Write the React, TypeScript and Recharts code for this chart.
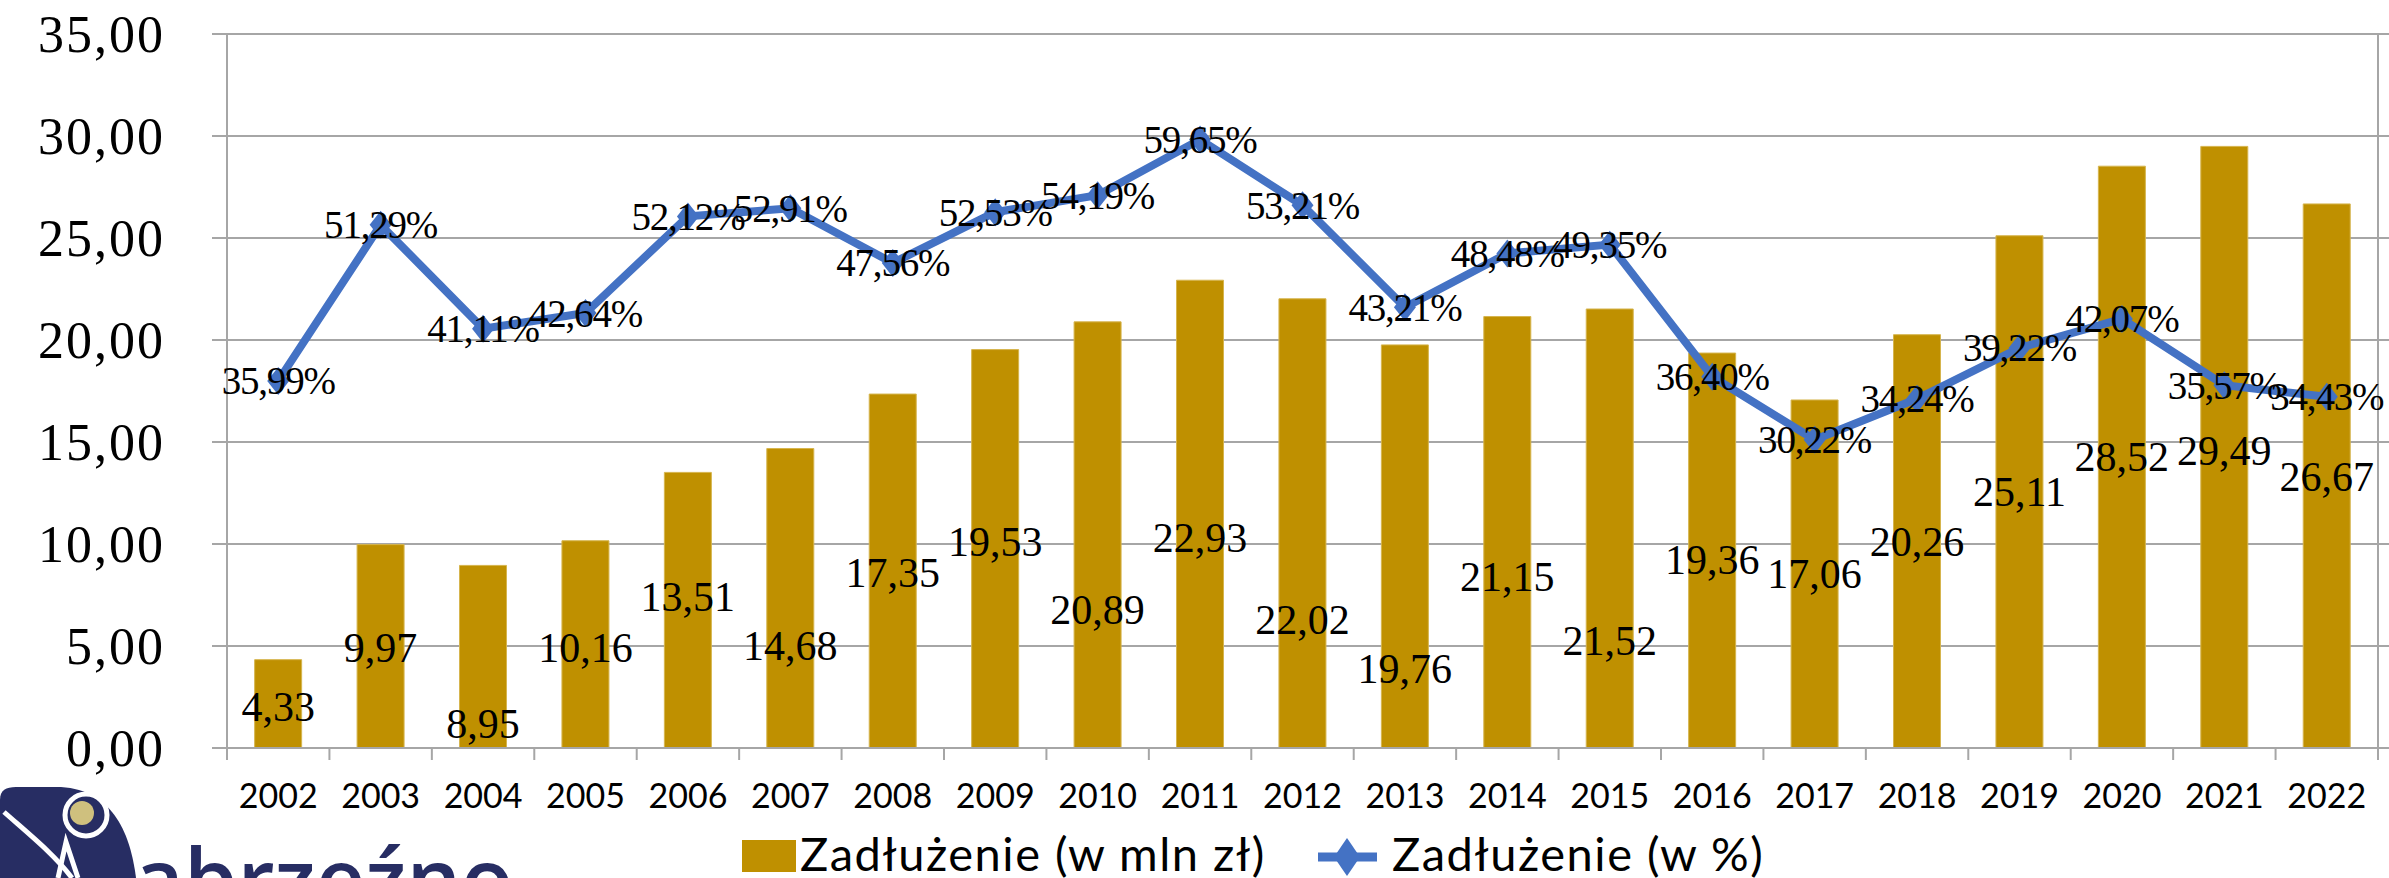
import React from 'react';
import { ComposedChart, Bar, Line, XAxis, YAxis, CartesianGrid, LabelList } from 'recharts';

const years = ['2002', '2003', '2004', '2005', '2006', '2007', '2008', '2009', '2010', '2011', '2012', '2013', '2014', '2015', '2016', '2017', '2018', '2019', '2020', '2021', '2022'];
const debtMln = [4.33, 9.97, 8.95, 10.16, 13.51, 14.68, 17.35, 19.53, 20.89, 22.93, 22.02, 19.76, 21.15, 21.52, 19.36, 17.06, 20.26, 25.11, 28.52, 29.49, 26.67];
const debtPct = [35.99, 51.29, 41.11, 42.64, 52.12, 52.91, 47.56, 52.53, 54.19, 59.65, 53.21, 43.21, 48.48, 49.35, 36.40, 30.22, 34.24, 39.22, 42.07, 35.57, 34.43];
// level (in mln zł axis units) at which each bar's value label sits in the original
const barLabelLevel = [2.01, 4.90, 1.18, 4.90, 7.40, 5.00, 8.58, 10.10, 6.76, 10.29, 6.27, 3.87, 8.38, 5.25, 9.22, 8.53, 10.10, 12.55, 14.26, 14.56, 13.28];
const yTicks = [0, 5, 10, 15, 20, 25, 30, 35];
const pctTicks = [0, 10, 20, 30, 40, 50, 60, 70];
const legendLabels = ['Zadłużenie (w mln zł)', 'Zadłużenie (w %)'];

const W = 2389;
const H = 878;
const LEFT_AXIS_W = 227;
const RIGHT_AXIS_W = 11;
const GRID = '#a6a6a6';
const GOLD = '#BF9000';
const BLUE = '#4472C4';
const NAVY = '#272D63';
const X_TICK_MARGIN = 36;

const data = years.map((year, i) => ({ year, mln: debtMln[i], pct: debtPct[i] }));

const fmt = (v: number) => v.toFixed(2).replace('.', ',');

const XTick = (props: any) => {
  const { x, y, payload, index } = props;
  const fallback = (W - LEFT_AXIS_W - RIGHT_AXIS_W) / years.length / 2;
  const off = typeof payload?.offset === 'number' && payload.offset > 0 ? payload.offset : fallback;
  const axisY = y - X_TICK_MARGIN;
  return (
    <g>
      <line x1={x - off} x2={x - off} y1={axisY} y2={axisY + 12} stroke={GRID} strokeWidth={2} />
      {index === years.length - 1 && (
        <line x1={x + off} x2={x + off} y1={axisY} y2={axisY + 12} stroke={GRID} strokeWidth={2} />
      )}
      <text x={x} y={y} dy="0.71em" textAnchor="middle" fontFamily="Lato" fontSize={34} fill="#000">
        {payload.value}
      </text>
    </g>
  );
};

const BarLabel = (p: any) => {
  const vb = p.viewBox ?? p;
  const x = vb.x ?? p.x;
  const y = vb.y ?? p.y;
  const width = vb.width ?? p.width;
  const height = vb.height ?? p.height;
  const value = Number(p.value);
  const idx = p.index;
  const cy = y + height - (barLabelLevel[idx] * height) / value;
  return (
    <text x={x + width / 2} y={cy} textAnchor="middle" dominantBaseline="central" fontFamily="Liberation Serif" fontSize={42} fill="#000">
      {fmt(value)}
    </text>
  );
};

const LineLabel = (p: any) => {
  const x = p.x ?? p.viewBox?.x;
  const y = p.y ?? p.viewBox?.y;
  return (
    <text x={x} y={y} textAnchor="middle" dominantBaseline="central" fontFamily="Liberation Serif" fontSize={39} letterSpacing={-1.2} fill="#000">
      {fmt(Number(p.value)) + '%'}
    </text>
  );
};

const Diamond = (p: any) => {
  const { cx, cy } = p;
  if (cx == null || cy == null) return <g />;
  return <path d={`M${cx},${cy - 14} L${cx + 11},${cy} L${cx},${cy + 14} L${cx - 11},${cy} Z`} fill={BLUE} />;
};

export default function App() {
  return (
    <div style={{ position: 'absolute', left: 0, top: 0, width: W, height: H, overflow: 'hidden', background: '#fff' }}>
      <ComposedChart width={W} height={H} data={data} margin={{ top: 34, right: 0, bottom: 0, left: 0 }} barCategoryGap="27%">
        <CartesianGrid vertical={false} stroke={GRID} strokeWidth={2} />
        <XAxis
          dataKey="year"
          interval={0}
          height={H - 748}
          tickLine={false}
          tickSize={0}
          tickMargin={X_TICK_MARGIN}
          axisLine={{ stroke: GRID, strokeWidth: 2 }}
          tick={<XTick />}
        />
        <YAxis
          domain={[0, 35]}
          ticks={yTicks}
          interval={0}
          width={LEFT_AXIS_W}
          tickSize={15}
          tickMargin={47}
          tickLine={{ stroke: GRID, strokeWidth: 2 }}
          axisLine={{ stroke: GRID, strokeWidth: 2 }}
          tickFormatter={fmt}
          tick={{ fontFamily: 'Liberation Serif', fontSize: 52, fill: '#000', letterSpacing: 2 }}
        />
        <YAxis
          yAxisId="pct"
          orientation="right"
          domain={[0, 70]}
          ticks={pctTicks}
          interval={0}
          width={RIGHT_AXIS_W}
          tickSize={11}
          tickLine={{ stroke: GRID, strokeWidth: 2 }}
          axisLine={{ stroke: GRID, strokeWidth: 2 }}
          tick={() => <g />}
        />
        <Bar dataKey="mln" fill={GOLD} stroke="#d6b54e" strokeWidth={1} isAnimationActive={false}>
          <LabelList dataKey="mln" content={BarLabel} />
        </Bar>
        <Line
          yAxisId="pct"
          dataKey="pct"
          stroke={BLUE}
          strokeWidth={8}
          dot={Diamond}
          activeDot={false}
          isAnimationActive={false}
        >
          <LabelList dataKey="pct" content={LineLabel} />
        </Line>
      </ComposedChart>
      <svg width={W} height={H} style={{ position: 'absolute', left: 0, top: 0, pointerEvents: 'none' }}>
        {/* legend */}
        <rect x={742} y={840} width={54} height={32} fill={GOLD} />
        <text x={800} y={871} fontFamily="Lato" fontSize={47} letterSpacing={1.5} fill="#000">{legendLabels[0]}</text>
        <line x1={1318} x2={1377} y1={857} y2={857} stroke={BLUE} strokeWidth={9} />
        <path d="M1347,838 L1360,857 L1347,876 L1334,857 Z" fill={BLUE} />
        <text x={1392} y={871} fontFamily="Lato" fontSize={47} letterSpacing={1.5} fill="#000">{legendLabels[1]}</text>
        {/* logo */}
        <path d="M0,800 C0,790 6,787 16,787 L56,787 C110,787 130,830 136,878 L0,878 Z" fill={NAVY} />
        <path d="M4,812 C30,835 55,855 72,878" stroke="#fff" strokeWidth={5} fill="none" />
        <circle cx={86} cy={815} r={21} stroke="#fff" strokeWidth={5} fill={NAVY} />
        <circle cx={82} cy={813} r={12} fill="#CFC07E" />
        <path d="M58,878 L66,842 L78,878" stroke="#fff" strokeWidth={5} fill="none" />
        <text x={134} y={911} fontFamily="Open Sans" fontWeight={600} fontSize={86} fill={NAVY}>abrzeźno</text>
      </svg>
    </div>
  );
}
